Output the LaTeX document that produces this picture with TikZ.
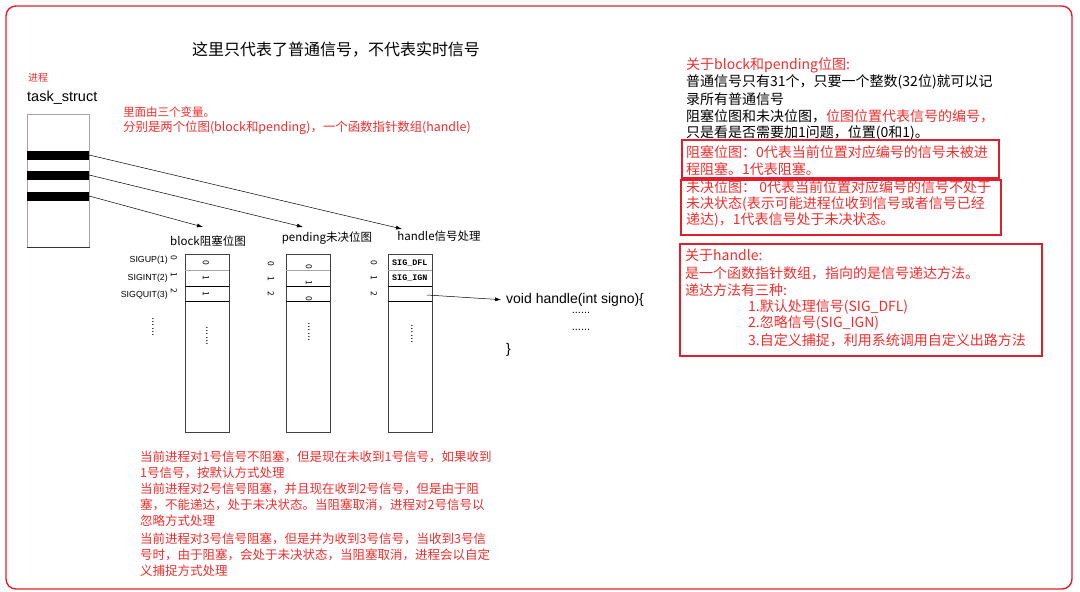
\documentclass[tikz,border=0pt]{standalone}
\usepackage{fontspec}
\setmainfont{Noto Sans CJK SC}
\newfontfamily\arialf{Liberation Sans}
\newfontfamily\monof{Liberation Mono}
\usetikzlibrary{arrows.meta}
\definecolor{notered}{RGB}{240,45,45}
\definecolor{boxred}{RGB}{225,30,45}
\definecolor{cellgray}{RGB}{165,165,165}
\newcommand\myfs[1]{\fontsize{#1}{#1}\selectfont}
\tikzset{
  lbl/.style={inner sep=0pt, anchor=west},
  rednote/.style={lbl, text=notered},
  ctr/.style={inner sep=0pt},
  bar/.style={fill=black, minimum width=62pt, minimum height=9pt, inner sep=0pt},
  colbox/.style={draw=black!75, line width=0.6pt, minimum width=44pt, minimum height=178pt, anchor=north west, inner sep=0pt},
  conn/.style={line width=0.5pt, -{Latex[length=6pt,width=4pt]}},
  rot/.style={inner sep=0pt, rotate=-90, font=\myfs{8.5}},
  vdots/.style={inner sep=0pt, rotate=-90, font=\arialf\myfs{11}},
  redbox/.style={draw=boxred, line width=1.6pt},
}
\begin{document}
\begin{tikzpicture}[x=1pt,y=-1pt]
\useasboundingbox (0,0) rectangle (1080,592);
\draw[boxred, line width=1.4pt, rounded corners=10pt] (6,6) rectangle (1072,589);

% title
\node[ctr, font=\myfs{16}] (title) at (336,50) {这里只代表了普通信号，不代表实时信号};

% task_struct
\node[rednote, font=\myfs{10}] (proc) at (28,78) {进程};
\node[lbl, font=\arialf\myfs{14.5}] (ts) at (27,98) {task\_struct};
\node[draw=cellgray, line width=0.8pt, minimum width=62pt, minimum height=133pt, anchor=north west, inner sep=0pt] (tsbox) at (27,114) {};
\draw[black!80, line width=0.8pt] (tsbox.south west) -- (tsbox.south east);
\node[bar] (bar1) at (58,155) {};
\node[bar] (bar2) at (58,175) {};
\node[bar] (bar3) at (58,196) {};

\node[rednote, font=\myfs{11.5}] (note1) at (123,112) {里面由三个变量。};
\node[rednote, font=\myfs{12.4}] (note2) at (123,128) {分别是两个位图(block和pending)，一个函数指针数组(handle)};

% column labels
\node[ctr, font=\myfs{11.5}] (blbl) at (208,241) {block阻塞位图};
\node[ctr, font=\myfs{11.5}] (plbl) at (327,238) {pending未决位图};
\node[ctr, font=\myfs{11.5}] (hlbl) at (439,236) {handle信号处理};

\coordinate (tipB) at (203,227);
\coordinate (tipP) at (303,227);
\coordinate (tipH) at (402,229);
\draw[conn] (bar1.east) -- (tipH);
\draw[conn] (bar2.east) -- (tipP);
\draw[conn] (bar3.east) -- (tipB);

% columns
\node[colbox] (blk) at (185,254) {};
\node[colbox] (pnd) at (286,254) {};
\node[colbox] (hdl) at (388,254) {};
\foreach \x in {185,286,388}{
  \draw[cellgray, line width=0.6pt] (\x,270) -- (\x+44,270);
  \draw[black, line width=0.6pt] (\x,286) -- (\x+44,286);
  \draw[black, line width=0.6pt] (\x,301) -- (\x+44,301);
}

% signal names
\node[inner sep=0pt, anchor=east, font=\arialf\myfs{8.8}] (s1) at (168,260) {SIGUP(1)};
\node[inner sep=0pt, anchor=east, font=\arialf\myfs{8.8}] (s2) at (168,278) {SIGINT(2)};
\node[inner sep=0pt, anchor=east, font=\arialf\myfs{8.8}] (s3) at (168,295) {SIGQUIT(3)};
\node[rot] (bi0) at (174,258) {0};
\node[rot] (bi1) at (174,275) {1};
\node[rot] (bi2) at (174,291) {2};
\node[vdots] (bdots) at (153,327) {......};

% block cells
\node[rot] (bv0) at (206,263) {0};
\node[rot] (bv1) at (206,278) {1};
\node[rot] (bv2) at (206,294) {1};
\node[vdots] (bvdots) at (207,336) {......};

% pending
\node[rot] (pi0) at (271,264) {0};
\node[rot] (pi1) at (271,279) {1};
\node[rot] (pi2) at (271,294) {2};
\node[rot] (pv0) at (309,267) {0};
\node[rot] (pv1) at (309,283) {1};
\node[rot] (pv2) at (309,299) {0};
\node[vdots] (pvdots) at (309,332) {......};

% handle
\node[rot] (hi0) at (374,263) {0};
\node[rot] (hi1) at (374,278) {1};
\node[rot] (hi2) at (374,294) {2};
\node[lbl, font=\monof\bfseries\myfs{8.4}] (hv0) at (392,263) {SIG\_DFL};
\node[lbl, font=\monof\bfseries\myfs{8.4}] (hv1) at (392,278) {SIG\_IGN};
\node[vdots] (hvdots) at (412,334) {......};

% handler function
\node[lbl, font=\arialf\myfs{14}] (fn) at (506,300) {void handle(int signo)\{};
\node[ctr, font=\arialf\myfs{11}] (fd1) at (581,313) {......};
\node[ctr, font=\arialf\myfs{11}] (fd2) at (581,330) {......};
\node[lbl, font=\arialf\myfs{14}] (fnend) at (506,350) {\}};
\coordinate (hstart) at (427,295);
\draw[conn, shorten >=5pt] (hstart) -- (fn.west);

% right notes
\node[rednote, font=\myfs{14}] (r1) at (686,65) {关于block和pending位图:};
\node[lbl, font=\myfs{14}] (r2) at (686,82) {普通信号只有31个，只要一个整数(32位)就可以记};
\node[lbl, font=\myfs{14}] (r3) at (686,99) {录所有普通信号};
\node[lbl, font=\myfs{14}] (r4) at (686,116) {阻塞位图和未决位图，\textcolor{notered}{位图位置代表信号的编号，}};
\node[lbl, font=\myfs{14}] (r5) at (686,133) {只是看是否需要加1问题，位置(0和1)。};

\node[redbox, minimum width=317pt, minimum height=38pt, anchor=north west, inner sep=0pt] (box1) at (681,139) {};
\node[rednote, font=\myfs{14}] (b1a) at (686,152) {阻塞位图：0代表当前位置对应编号的信号未被进};
\node[rednote, font=\myfs{14}] (b1b) at (686,169) {程阻塞。1代表阻塞。};

\node[redbox, minimum width=320pt, minimum height=55pt, anchor=north west, inner sep=0pt] (box2) at (680,179) {};
\node[rednote, font=\myfs{14}] (b2a) at (686,187) {未决位图：\ 0代表当前位置对应编号的信号不处于};
\node[rednote, font=\myfs{14}] (b2b) at (686,204) {未决状态(表示可能进程位收到信号或者信号已经};
\node[rednote, font=\myfs{14}] (b2c) at (686,220) {递达)，1代表信号处于未决状态。};

\node[redbox, minimum width=362pt, minimum height=112pt, anchor=north west, inner sep=0pt] (box3) at (679,243) {};
\node[rednote, font=\myfs{14}] (b3a) at (685,255) {关于handle:};
\node[rednote, font=\myfs{14}] (b3b) at (685,273) {是一个函数指针数组，指向的是信号递达方法。};
\node[rednote, font=\myfs{14}] (b3c) at (685,290) {递达方法有三种:};
\node[rednote, font=\myfs{14}] (b3d) at (748,307) {1.默认处理信号(SIG\_DFL)};
\node[rednote, font=\myfs{14}] (b3e) at (748,323) {2.忽略信号(SIG\_IGN)};
\node[rednote, font=\myfs{14}] (b3f) at (748,340) {3.自定义捕捉，利用系统调用自定义出路方法};

% bottom notes
\node[rednote, font=\myfs{12.5}] (n1) at (140,457) {当前进程对1号信号不阻塞，但是现在未收到1号信号，如果收到};
\node[rednote, font=\myfs{12.5}] (n2) at (140,473) {1号信号，按默认方式处理};
\node[rednote, font=\myfs{12.5}] (n3) at (140,489) {当前进程对2号信号阻塞，并且现在收到2号信号，但是由于阻};
\node[rednote, font=\myfs{12.5}] (n4) at (140,505) {塞，不能递达，处于未决状态。当阻塞取消，进程对2号信号以};
\node[rednote, font=\myfs{12.5}] (n5) at (140,521) {忽略方式处理};
\node[rednote, font=\myfs{12.5}] (n6) at (140,539) {当前进程对3号信号阻塞，但是并为收到3号信号，当收到3号信};
\node[rednote, font=\myfs{12.5}] (n7) at (140,555) {号时，由于阻塞，会处于未决状态，当阻塞取消，进程会以自定};
\node[rednote, font=\myfs{12.5}] (n8) at (140,571) {义捕捉方式处理};
\end{tikzpicture}
\end{document}
